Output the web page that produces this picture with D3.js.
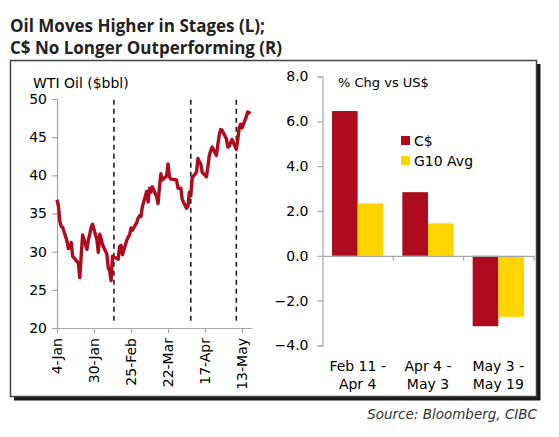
<!DOCTYPE html>
<html>
<head>
<meta charset="utf-8">
<script src="https://cdn.jsdelivr.net/npm/d3@7/dist/d3.min.js"></script>
<style>
  body { margin: 0; background: #fff; }
  svg text { font-family: "DejaVu Sans", sans-serif; fill: #000; }
</style>
</head>
<body>
<div id="chart"></div>
<script>
// WTI oil, daily close ($bbl)
var oilDates = ["2016-01-04","2016-01-05","2016-01-06","2016-01-07","2016-01-08","2016-01-11","2016-01-12","2016-01-13","2016-01-14","2016-01-15",
  "2016-01-19","2016-01-20","2016-01-21","2016-01-22","2016-01-25","2016-01-26","2016-01-27","2016-01-28","2016-01-29",
  "2016-02-01","2016-02-02","2016-02-03","2016-02-04","2016-02-05","2016-02-08","2016-02-09","2016-02-10","2016-02-11","2016-02-12",
  "2016-02-16","2016-02-17","2016-02-18","2016-02-19","2016-02-22","2016-02-23","2016-02-24","2016-02-25","2016-02-26","2016-02-29",
  "2016-03-01","2016-03-02","2016-03-03","2016-03-04","2016-03-07","2016-03-08","2016-03-09","2016-03-10","2016-03-11",
  "2016-03-14","2016-03-15","2016-03-16","2016-03-17","2016-03-18","2016-03-21","2016-03-22","2016-03-23","2016-03-24",
  "2016-03-28","2016-03-29","2016-03-30","2016-03-31","2016-04-01","2016-04-04","2016-04-05","2016-04-06","2016-04-07","2016-04-08",
  "2016-04-11","2016-04-12","2016-04-13","2016-04-14","2016-04-15","2016-04-18","2016-04-19","2016-04-20","2016-04-21","2016-04-22",
  "2016-04-25","2016-04-26","2016-04-27","2016-04-28","2016-04-29","2016-05-02","2016-05-03","2016-05-04","2016-05-05","2016-05-06",
  "2016-05-09","2016-05-10","2016-05-11","2016-05-12","2016-05-13","2016-05-16","2016-05-17","2016-05-18","2016-05-19"];
var oilValues = [36.8,36.0,34.0,33.3,33.2,31.4,30.4,30.5,31.2,29.4,
  28.5,26.6,29.5,32.2,30.3,31.5,32.3,33.2,33.6,
  31.6,29.9,32.3,31.7,30.9,29.7,27.9,27.5,26.2,29.4,
  29.0,30.7,30.8,29.6,31.5,31.9,32.2,33.1,32.8,33.8,
  34.4,34.7,34.6,35.9,37.9,36.5,38.3,37.8,38.5,
  37.2,36.3,38.5,40.2,39.4,39.9,41.5,39.8,39.5,
  39.4,38.3,38.3,38.3,36.8,35.7,35.9,37.8,37.3,39.7,
  40.4,42.2,41.8,41.5,40.4,39.8,41.1,42.6,43.2,43.7,
  42.6,44.0,45.3,46.0,45.9,44.8,43.7,43.8,44.3,44.7,
  43.4,44.7,46.2,46.7,46.2,47.7,48.3,48.2,48.1];
var oilTicks = ["2016-01-04","2016-01-30","2016-02-25","2016-03-22","2016-04-17","2016-05-13"];
var stageLines = ["2016-02-13","2016-04-07","2016-05-09"];

// % chg vs US$
var periods = [["Feb 11 -","Apr 4"],["Apr 4 -","May 3"],["May 3 -","May 19"]];
var seriesNames = ["C$","G10 Avg"];
var cadValues = [6.46,2.84,-3.14];
var g10Values = [2.34,1.45,-2.72];
var colors = ["#AF0B1F","#FFD400"];

var parse = d3.timeParse("%Y-%m-%d");
var fmtTick = d3.timeFormat("%-d-%b");

var svg = d3.select("#chart").append("svg")
    .attr("width", 559)
    .attr("height", 437);

// title
svg.append("text").attr("x", 10).attr("y", 32)
    .style("font-family", "'Open Sans', sans-serif")
    .style("font-weight", "bold").style("font-size", "17px").style("fill", "#222")
    .text("Oil Moves Higher in Stages (L);");
svg.append("text").attr("x", 10).attr("y", 54)
    .style("font-family", "'Open Sans', sans-serif")
    .style("font-weight", "bold").style("font-size", "17px").style("fill", "#222")
    .text("C$ No Longer Outperforming (R)");

// frame with shadow
svg.append("path")
    .attr("d", "M14,398.5H538.5V64")
    .attr("fill", "none").attr("stroke", "#1a1a1a").attr("stroke-width", 4);
svg.append("rect")
    .attr("x", 10.5).attr("y", 60.5).attr("width", 526).attr("height", 336)
    .attr("fill", "none").attr("stroke", "#444").attr("stroke-width", 1.5);

// ---- left: WTI oil
var x = d3.scaleTime()
    .domain([parse("2016-01-04"), parse("2016-05-20")])
    .range([57, 252]);
var y = d3.scaleLinear().domain([20, 50]).range([328, 99]);

var left = svg.append("g");

left.append("text").attr("x", 33).attr("y", 88)
    .style("font-size", "14px").text("WTI Oil ($bbl)");

var yAxisL = left.append("g")
    .attr("transform", "translate(57,0)")
    .call(d3.axisLeft(y).tickValues([20,25,30,35,40,45,50]).tickSize(5).tickPadding(5));
var xAxisL = left.append("g")
    .attr("transform", "translate(0,328)")
    .call(d3.axisBottom(x).tickValues(oilTicks.map(parse)).tickFormat(fmtTick).tickSize(5).tickSizeOuter(0));
xAxisL.selectAll("text")
    .attr("transform", "translate(0,10) rotate(-90)")
    .attr("x", 0).attr("y", 0).attr("dy", "0.35em")
    .style("text-anchor", "end");

// stage markers
left.selectAll(".stage")
    .data(stageLines)
    .enter().append("line")
    .attr("x1", function(d) { return x(parse(d)); })
    .attr("x2", function(d) { return x(parse(d)); })
    .attr("y1", y(49.9)).attr("y2", y(20.8))
    .attr("stroke", "#111").attr("stroke-width", 1.5)
    .attr("stroke-dasharray", "5,4");

var oil = oilDates.map(function(d, i) { return {date: parse(d), value: oilValues[i]}; });
left.append("path")
    .datum(oil)
    .attr("fill", "none")
    .attr("stroke", colors[0])
    .attr("stroke-width", 3.4)
    .attr("stroke-linejoin", "round")
    .attr("d", d3.line().x(function(d) { return x(d.date); }).y(function(d) { return y(d.value); }));

// ---- right: % chg bars
var yR = d3.scaleLinear().domain([-4, 8]).range([345.5, 76.5]);
var xR = d3.scaleBand().domain(d3.range(periods.length)).range([322.5, 533.5]);
var xInner = d3.scaleBand().domain(seriesNames).range([0, xR.bandwidth()]).paddingOuter(0.37);

var right = svg.append("g");

var bars = [];
periods.forEach(function(p, i) {
  bars.push({i: i, s: seriesNames[0], v: cadValues[i]});
  bars.push({i: i, s: seriesNames[1], v: g10Values[i]});
});
right.selectAll(".bar")
    .data(bars)
    .enter().append("rect")
    .attr("class", "bar")
    .attr("x", function(d) { return xR(d.i) + xInner(d.s); })
    .attr("width", xInner.bandwidth())
    .attr("y", function(d) { return yR(Math.max(0, d.v)); })
    .attr("height", function(d) { return Math.abs(yR(d.v) - yR(0)); })
    .attr("fill", function(d) { return d.s == seriesNames[0] ? colors[0] : colors[1]; });

var yAxisR = right.append("g")
    .attr("transform", "translate(322.5,0)")
    .call(d3.axisLeft(yR).tickValues([-4,-2,0,2,4,6,8]).tickFormat(d3.format(".1f")).tickSize(5).tickPadding(9));

// zero line with category dividers
var xAxisR = right.append("g")
    .attr("transform", "translate(0," + yR(0) + ")")
    .call(d3.axisBottom(d3.scaleLinear().domain([0, periods.length]).range(xR.range()))
      .tickValues(d3.range(1, periods.length + 1)).tickSize(5).tickSizeOuter(0).tickFormat(""));

// category labels
var cat = right.selectAll(".cat")
    .data(periods)
    .enter().append("text")
    .attr("class", "cat")
    .attr("x", function(d, i) { return xR(i) + xR.bandwidth() / 2; })
    .attr("y", 371)
    .style("text-anchor", "middle")
    .style("font-size", "14px");
cat.append("tspan").text(function(d) { return d[0]; });
cat.append("tspan")
    .attr("x", function(d, i) { return xR(i) + xR.bandwidth() / 2; })
    .attr("dy", 18)
    .text(function(d) { return d[1]; });

right.append("text").attr("x", 338).attr("y", 87)
    .style("font-size", "13px").text("% Chg vs US$");

// legend
var legend = right.selectAll(".legend")
    .data(seriesNames)
    .enter().append("g")
    .attr("transform", function(d, i) { return "translate(401," + (136 + i * 20) + ")"; });
legend.append("rect").attr("width", 9).attr("height", 9)
    .attr("fill", function(d, i) { return colors[i]; });
legend.append("text").attr("x", 13).attr("y", 9.5)
    .style("font-size", "14px").text(function(d) { return d; });

// axis styling
svg.selectAll(".domain, .tick line").attr("stroke", "#a6a6a6").attr("stroke-width", 1.2);
svg.selectAll(".tick text").style("font-size", "14px").attr("fill", "#000");

// source
svg.append("text").attr("x", 537).attr("y", 419)
    .style("text-anchor", "end").style("font-style", "italic").style("font-size", "13.5px").style("fill", "#333")
    .text("Source: Bloomberg, CIBC");
</script>
</body>
</html>
